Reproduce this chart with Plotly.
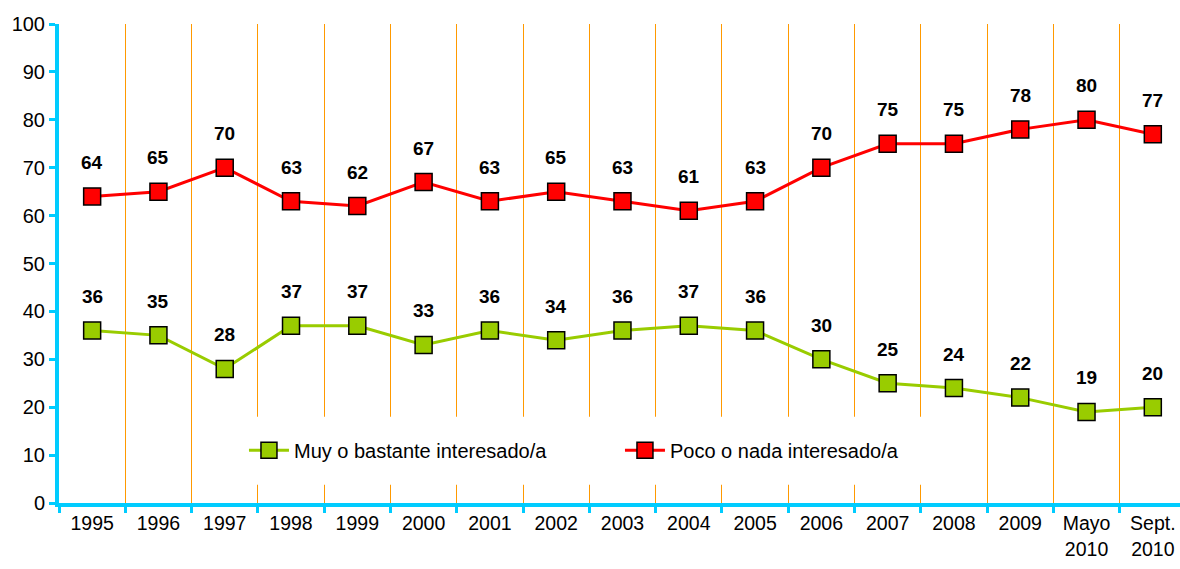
import plotly.graph_objects as go

categories = ["1995", "1996", "1997", "1998", "1999", "2000", "2001", "2002", "2003",
              "2004", "2005", "2006", "2007", "2008", "2009", "Mayo<br>2010", "Sept.<br>2010"]
muy = [36, 35, 28, 37, 37, 33, 36, 34, 36, 37, 36, 30, 25, 24, 22, 19, 20]
poco = [64, 65, 70, 63, 62, 67, 63, 65, 63, 61, 63, 70, 75, 75, 78, 80, 77]
y_ticks = list(range(0, 101, 10))

GREEN = "#99CC00"
RED = "#FF0000"
CYAN = "#00CCFF"
ORANGE = "#FF9900"
FONT = "Liberation Sans, Arial, sans-serif"

fig = go.Figure()
fig.add_trace(go.Scatter(
    x=categories, y=muy, mode="lines+markers", name="Muy o bastante interesado/a",
    line=dict(color=GREEN, width=3),
    marker=dict(symbol="square", size=17, color=GREEN, line=dict(color="black", width=1.5)),
))
fig.add_trace(go.Scatter(
    x=categories, y=poco, mode="lines+markers", name="Poco o nada interesado/a",
    line=dict(color=RED, width=3),
    marker=dict(symbol="square", size=17, color=RED, line=dict(color="black", width=1.5)),
))

annotations = []
for series in (muy, poco):
    for i, v in enumerate(series):
        annotations.append(dict(
            x=i, y=v, xref="x", yref="y", text=f"<b>{v}</b>", showarrow=False,
            yshift=34, font=dict(family=FONT, size=19, color="black"),
        ))

fig.update_layout(
    width=1180, height=569,
    margin=dict(l=59, r=0, t=24, b=66),
    paper_bgcolor="white", plot_bgcolor="white",
    font=dict(family=FONT, size=20, color="black"),
    showlegend=True,
    legend=dict(
        orientation="h", x=0.165, y=0.11, xanchor="left", yanchor="middle",
        bgcolor="rgba(255,255,255,0)", entrywidth=321, entrywidthmode="pixels",
        font=dict(family=FONT, size=20), itemwidth=40,
    ),
    annotations=annotations,
    shapes=[dict(
        type="rect", xref="paper", yref="y", x0=0.163, x1=0.781, y0=3.8, y1=18,
        fillcolor="white", line=dict(width=0), layer="above",
    )],
)
fig.update_xaxes(
    type="category", range=[-0.5, 16.41], automargin=False,
    showline=True, linecolor=CYAN, linewidth=4,
    tickson="boundaries", ticks="outside", ticklen=6, tickwidth=3, tickcolor=CYAN,
    showgrid=True, gridcolor=ORANGE, gridwidth=1.3,
    tickfont=dict(family=FONT, size=19.5), zeroline=False,
)
fig.update_yaxes(
    range=[0, 100], tickvals=y_ticks, automargin=False,
    showline=True, linecolor=CYAN, linewidth=4,
    ticks="outside", ticklen=6, tickwidth=3, tickcolor=CYAN,
    showgrid=False, zeroline=False, tickfont=dict(family=FONT, size=20),
)

fig.write_html("out.html", config={"displayModeBar": False},
               post_script="document.body.style.margin='0';")
